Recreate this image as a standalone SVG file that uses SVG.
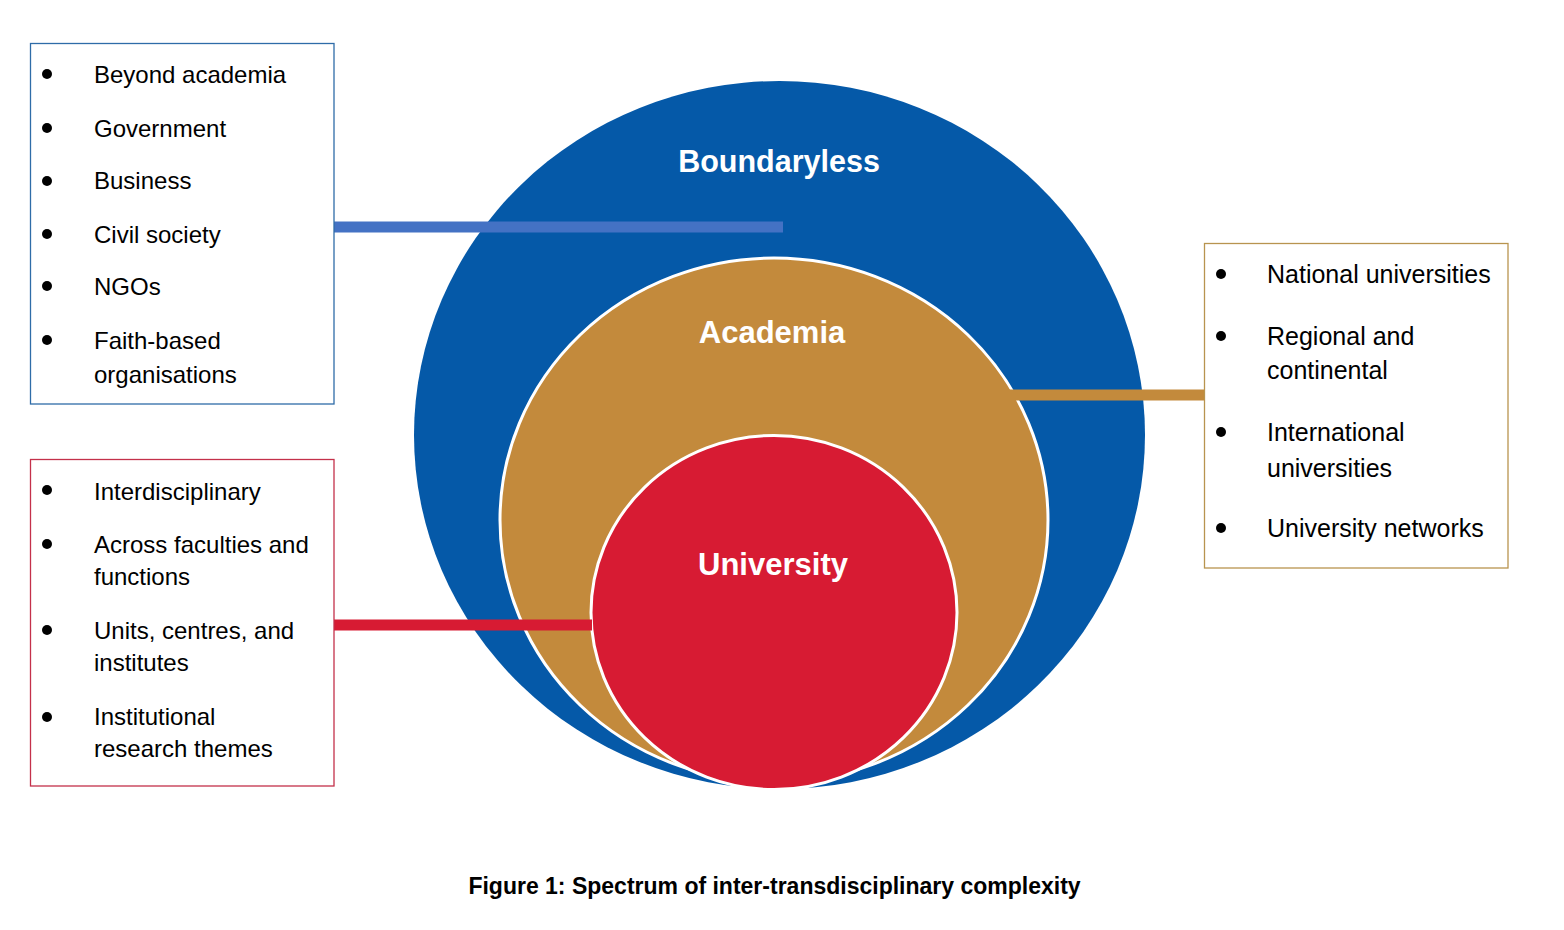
<svg xmlns="http://www.w3.org/2000/svg" width="1564" height="930" viewBox="0 0 1564 930">
  <style>
    .item { font-family: "Liberation Sans", Arial, sans-serif; font-size: 24px; fill: #000; }
    .itemR { font-family: "Liberation Sans", Arial, sans-serif; font-size: 25px; fill: #000; }
    .lbl { font-family: "Liberation Sans", Arial, sans-serif; font-weight: bold; font-size: 31px; fill: #fff; text-anchor: middle; }
    .cap { font-family: "Liberation Sans", Arial, sans-serif; font-weight: bold; font-size: 23px; fill: #000; text-anchor: middle; }
    .bul { fill: #000; }
    .conn { stroke-width: 11; fill: none; }
  </style>
  <rect x="0" y="0" width="1564" height="930" fill="#fff"/>

  <g id="boundaryless">
    <ellipse cx="779.5" cy="435" rx="365.5" ry="354" fill="#0559a8"/>
    <text class="lbl" x="779" y="172" style="font-size:30.5px">Boundaryless</text>
  </g>
  <g id="academia">
    <ellipse cx="774" cy="520" rx="274" ry="262" fill="#c38a3c" stroke="#fff" stroke-width="3"/>
    <text class="lbl" x="772" y="343">Academia</text>
  </g>
  <g id="university">
    <ellipse cx="774" cy="612.5" rx="183" ry="177" fill="#d71b33" stroke="#fff" stroke-width="3"/>
    <text class="lbl" x="773" y="575">University</text>
  </g>

  <g id="connectors">
    <line class="conn" x1="334" y1="227" x2="783" y2="227" stroke="#4472c4"/>
    <line class="conn" x1="1000" y1="395" x2="1204" y2="395" stroke="#c38a3c" stroke-width="12"/>
    <line class="conn" x1="334" y1="625" x2="592" y2="625" stroke="#d71b33" stroke-width="12"/>
  </g>

  <g id="box-beyond">
    <rect x="30.5" y="43.5" width="303.5" height="360.5" fill="#fff" stroke="#2e6ca8" stroke-width="1.3"/>
    <circle class="bul" cx="47" cy="74" r="5"/>
    <circle class="bul" cx="47" cy="128" r="5"/>
    <circle class="bul" cx="47" cy="181" r="5"/>
    <circle class="bul" cx="47" cy="234" r="5"/>
    <circle class="bul" cx="47" cy="286" r="5"/>
    <circle class="bul" cx="47" cy="340" r="5"/>
    <text class="item" x="94" y="83">Beyond academia</text>
    <text class="item" x="94" y="137">Government</text>
    <text class="item" x="94" y="189">Business</text>
    <text class="item" x="94" y="243">Civil society</text>
    <text class="item" x="94" y="295">NGOs</text>
    <text class="item" x="94" y="349">Faith-based</text>
    <text class="item" x="94" y="383">organisations</text>
  </g>

  <g id="box-university">
    <rect x="30.5" y="459.5" width="303.5" height="326.5" fill="#fff" stroke="#c4304a" stroke-width="1.3"/>
    <circle class="bul" cx="47" cy="490" r="5"/>
    <circle class="bul" cx="47" cy="544" r="5"/>
    <circle class="bul" cx="47" cy="630" r="5"/>
    <circle class="bul" cx="47" cy="717" r="5"/>
    <text class="item" x="94" y="500">Interdisciplinary</text>
    <text class="item" x="94" y="553">Across faculties and</text>
    <text class="item" x="94" y="585">functions</text>
    <text class="item" x="94" y="639">Units, centres, and</text>
    <text class="item" x="94" y="671">institutes</text>
    <text class="item" x="94" y="725">Institutional</text>
    <text class="item" x="94" y="757">research themes</text>
  </g>

  <g id="box-academia">
    <rect x="1204.5" y="243.5" width="303.5" height="324.5" fill="#fff" stroke="#b8944f" stroke-width="1.3"/>
    <circle class="bul" cx="1221" cy="274" r="5"/>
    <circle class="bul" cx="1221" cy="336" r="5"/>
    <circle class="bul" cx="1221" cy="432" r="5"/>
    <circle class="bul" cx="1221" cy="528" r="5"/>
    <text class="itemR" x="1267" y="283">National universities</text>
    <text class="itemR" x="1267" y="345">Regional and</text>
    <text class="itemR" x="1267" y="379">continental</text>
    <text class="itemR" x="1267" y="441">International</text>
    <text class="itemR" x="1267" y="477">universities</text>
    <text class="itemR" x="1267" y="537">University networks</text>
  </g>

  <text class="cap" x="774.5" y="894">Figure 1: Spectrum of inter-transdisciplinary complexity</text>
</svg>
